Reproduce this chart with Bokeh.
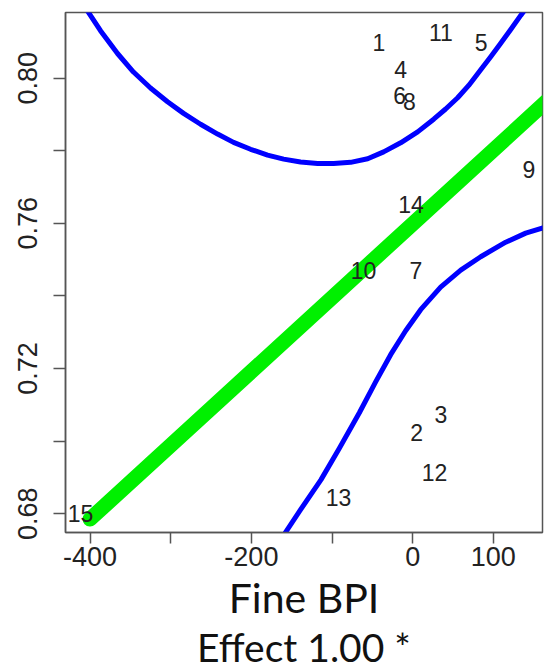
from bokeh.plotting import figure
from bokeh.models import Range1d, FixedTicker, Title, ColumnDataSource
from bokeh.core.properties import value
from bokeh.embed import file_html
from bokeh.resources import INLINE

# --- data ---
point_ids = ["1", "2", "3", "4", "5", "6", "7", "8", "9", "10", "11", "12", "13", "14", "15"]
point_x = [-42, 5, 35, -15, 85, -16, 4, -4, 144, -61, 35, 27, -92, -2, -412]
point_y = [0.8098, 0.7024, 0.7074, 0.8025, 0.8098, 0.7951, 0.7469, 0.7937, 0.7749,
           0.7469, 0.8126, 0.6913, 0.6845, 0.7653, 0.6799]

fit_x = [-400, 165]
fit_y = [0.6785, 0.7934]

upper_x = [-405.7, -400.4, -387.1, -366.0, -346.2, -325.1, -304.0, -284.1, -263.0, -241.9,
           -222.1, -201.0, -179.9, -160.0, -139.0, -117.9, -98.0, -76.9, -55.8, -36.0,
           -14.9, 6.2, 26.1, 40.9, 55.8, 69.5, 84.4, 96.8, 109.2, 121.6, 134.0, 142.7]
upper_y = [0.8194, 0.8176, 0.8131, 0.8068, 0.8017, 0.7973, 0.7935, 0.7903, 0.7873, 0.7846,
           0.7823, 0.7804, 0.7788, 0.7777, 0.7769, 0.7765, 0.7765, 0.7768, 0.7778, 0.7797,
           0.7822, 0.7852, 0.7887, 0.7915, 0.7946, 0.7980, 0.8023, 0.8059, 0.8096, 0.8134,
           0.8173, 0.8199]

lower_x = [-163.8, -157.2, -139.0, -113.8, -90.9, -66.1, -45.9, -27.3, -8.7, 9.9,
           34.7, 59.6, 84.4, 115.4, 140.2, 165.0]
lower_y = [0.6727, 0.6750, 0.6811, 0.6893, 0.6980, 0.7078, 0.7163, 0.7238, 0.7304, 0.7362,
           0.7424, 0.7471, 0.7508, 0.7548, 0.7573, 0.7590]

x_ticks = [-400, -300, -200, -100, 0, 100]
x_labels = ["-400", "", "-200", "", "0", "100"]
y_ticks = [0.68, 0.70, 0.72, 0.74, 0.76, 0.78, 0.80]
y_labels = ["0.68", "", "0.72", "", "0.76", "", "0.80"]

x_title = "Fine BPI"
sub_title = "Effect 1.00 *"

p = figure(width=544, height=669,
           x_range=Range1d(-430.5, 161.0), y_range=Range1d(0.6748, 0.8181),
           output_backend="svg", toolbar_location=None,
           min_border_left=65, min_border_right=2, min_border_top=12, min_border_bottom=137)
p.grid.visible = False
p.outline_line_color = "#555555"
p.outline_line_width = 1.5
p.background_fill_color = "white"

# lines
p.line(upper_x, upper_y, line_color="#0000ff", line_width=5, line_cap="round", line_join="round")
p.line(lower_x, lower_y, line_color="#0000ff", line_width=5, line_cap="round", line_join="round")
p.line(fit_x, fit_y, line_color="#00f000", line_width=15, line_cap="round")

src = ColumnDataSource(dict(x=point_x, y=point_y, t=point_ids))
p.text(x="x", y="y", text="t", source=src, text_align="center", text_baseline="middle",
       text_font=value("Liberation Sans"), text_font_size="23px", text_color="#222222")

for ax in (p.xaxis[0], p.yaxis[0]):
    ax.axis_line_color = "#555555"
    ax.axis_line_width = 1.5
    ax.major_tick_line_color = "#555555"
    ax.major_tick_line_width = 1.5
    ax.major_tick_in = 0
    ax.minor_tick_line_color = None
    ax.major_label_text_font = "Liberation Sans"
    ax.major_label_text_font_size = "27px"
    ax.major_label_text_color = "#222222"

p.xaxis.ticker = FixedTicker(ticks=x_ticks)
p.xaxis.major_label_overrides = {t: s for t, s in zip(x_ticks, x_labels)}
p.xaxis.major_tick_out = 11
p.xaxis.major_label_standoff = 3
p.xaxis.axis_label = x_title
p.xaxis.axis_label_text_font = "Lato"
p.xaxis.axis_label_text_font_style = "normal"
p.xaxis.axis_label_text_font_size = "41px"
p.xaxis.axis_label_text_color = "#111111"
p.xaxis.axis_label_standoff = 4

p.yaxis.ticker = FixedTicker(ticks=y_ticks)
p.yaxis.major_label_overrides = {t: s for t, s in zip(y_ticks, y_labels)}
p.yaxis.major_tick_out = 12
p.yaxis.major_label_orientation = "vertical"
p.yaxis.major_label_standoff = 16

sub = Title(text=sub_title, align="center", text_font="Lato", text_font_style="normal",
            text_font_size="39px", text_color="#111111", standoff=-6, text_line_height=0.8)
p.add_layout(sub, "below")

open("out.html", "w").write(file_html(p, INLINE))
